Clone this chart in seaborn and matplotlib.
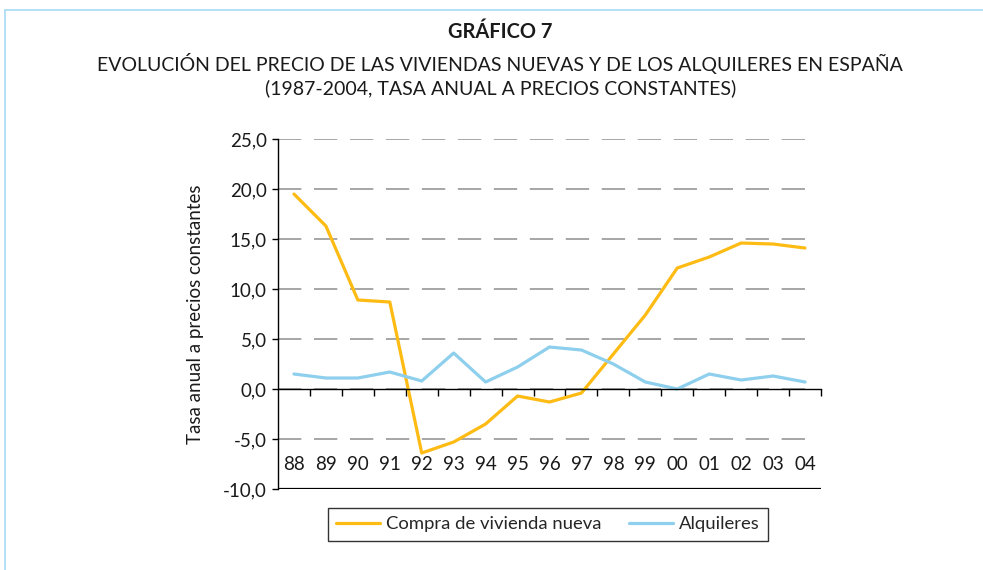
import pandas as pd
import matplotlib.pyplot as plt
from matplotlib.ticker import FuncFormatter, FixedLocator
from matplotlib.lines import Line2D
import seaborn as sns

# Data
years = ['88', '89', '90', '91', '92', '93', '94', '95', '96',
         '97', '98', '99', '00', '01', '02', '03', '04']
compra = [19.5, 16.3, 8.9, 8.7, -6.4, -5.3, -3.5, -0.7, -1.3,
          -0.4, 3.5, 7.4, 12.1, 13.2, 14.6, 14.5, 14.1]
alquileres = [1.5, 1.1, 1.1, 1.7, 0.8, 3.6, 0.7, 2.2, 4.2,
              3.9, 2.5, 0.7, 0.0, 1.5, 0.9, 1.3, 0.7]
series_names = ['Compra de vivienda nueva', 'Alquileres']
colors = ['#FDBB14', '#8DCFEC']

df = pd.DataFrame({'year': years * 2,
                   'valor': compra + alquileres,
                   'serie': [series_names[0]] * len(years) + [series_names[1]] * len(years)})

sns.set_style('white')
plt.rcParams['font.family'] = ['Lato', 'DejaVu Sans']

fig = plt.figure(figsize=(9.83, 5.70), dpi=100)
ax = fig.add_axes([0.2828, 0.1421, 0.8352 - 0.2828, 0.7561 - 0.1421])

sns.lineplot(data=df, x='year', y='valor', hue='serie', palette=colors,
             linewidth=2.3, sort=False, ax=ax)

ax.set_xlim(-0.5, len(years) - 0.5)
ax.set_ylim(-10, 25)
ax.set_yticks(range(-10, 30, 5))
ax.yaxis.set_major_formatter(FuncFormatter(lambda v, p: f'{v:.1f}'.replace('.', ',')))

# dashed grid
for v in range(-5, 30, 5):
    ax.axhline(v, color='#a6a6a6', lw=1.4, ls=(0, (12, 6.5)), zorder=0, xmax=0.987)

# spines: bottom axis crossing at 0, frame line at -10
for s in ['top', 'right']:
    ax.spines[s].set_visible(False)
ax.spines['left'].set_color('black')
ax.spines['left'].set_linewidth(1.0)
ax.spines['bottom'].set_position(('data', 0))
ax.spines['bottom'].set_color('black')
ax.spines['bottom'].set_linewidth(1.0)
ax.axhline(-10, color='black', lw=1.6, zorder=1)

ax.xaxis.set_minor_locator(FixedLocator([i + 0.5 for i in range(len(years))]))
ax.tick_params(axis='x', which='major', bottom=True, length=0, pad=48, labelsize=13.5,
               labelcolor='#1a1a1a')
ax.tick_params(axis='x', which='minor', bottom=True, length=5, width=1, color='black',
               direction='out')
ax.tick_params(axis='y', length=4, width=1, color='black', direction='out', labelsize=13.5,
               labelcolor='#1a1a1a', left=True, pad=4)

ax.set_xlabel('')
ax.set_ylabel('Tasa anual a precios constantes', fontsize=13.5, color='#1a1a1a', labelpad=14)

leg = ax.legend(loc='upper center', bbox_to_anchor=(0.497, -0.054), ncol=2, frameon=True,
                fancybox=False, edgecolor='black', fontsize=13.3, handlelength=2.4,
                handletextpad=0.3, columnspacing=1.5, borderpad=0.45, borderaxespad=0)
leg.get_frame().set_linewidth(1.0)
for h in leg.get_lines():
    h.set_linewidth(2.3)

fig.text(0.509, 0.944, 'GRÁFICO 7', ha='center', va='center', fontsize=14.4, fontweight='bold',
         color='#1a1a1a')
fig.text(0.509, 0.889, 'EVOLUCIÓN DEL PRECIO DE LAS VIVIENDAS NUEVAS Y DE LOS ALQUILERES EN ESPAÑA',
         ha='center', va='center', fontsize=14, color='#1a1a1a')
fig.text(0.509, 0.845, '(1987-2004, TASA ANUAL A PRECIOS CONSTANTES)',
         ha='center', va='center', fontsize=14, color='#1a1a1a')

# light blue frame
fig.add_artist(Line2D([0.005, 1.0], [0.982, 0.982], color='#a8dcf2', lw=1.2, transform=fig.transFigure))
fig.add_artist(Line2D([0.005, 0.005], [0.0, 0.982], color='#a8dcf2', lw=1.2, transform=fig.transFigure))

fig.savefig('out.png', dpi=100)
